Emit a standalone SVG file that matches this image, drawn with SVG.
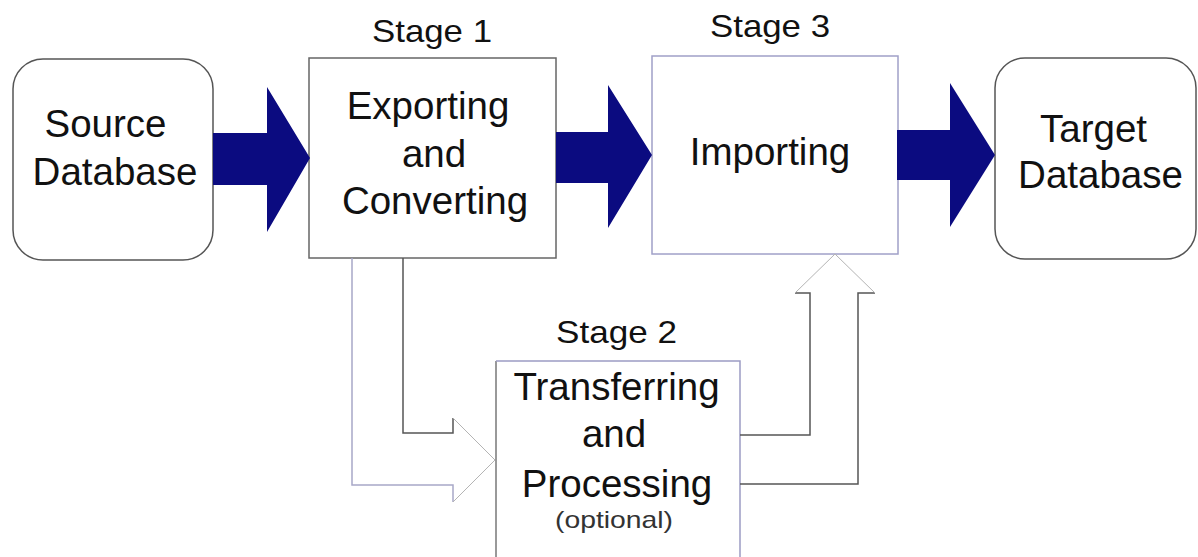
<svg xmlns="http://www.w3.org/2000/svg" width="1198" height="557" viewBox="0 0 1198 557">
  <defs>
    <style>
      .lbl { font-family: "Liberation Sans", Arial, sans-serif; fill: #111; text-anchor: middle; }
      .main { font-size: 38.5px; }
      .stage { font-size: 32px; }
      .note { font-size: 24px; fill: #333; }
      .box { fill: #fff; stroke-width: 1.5; }
      .flow { fill: #0b0b80; stroke: none; }
      .edge-dark { fill: none; stroke: #555; stroke-width: 1.5; }
      .edge-light { fill: none; stroke: #a8a8c8; stroke-width: 1.5; }
      .edge-tip { fill: none; stroke: #b4b4b4; stroke-width: 1; }
    </style>
  </defs>
  <rect width="1198" height="557" fill="#fff"/>

  <!-- nodes -->
  <g id="source-db">
    <rect class="box" x="13" y="59" width="200" height="201" rx="30" stroke="#555"/>
    <text class="lbl main" x="105.5" y="137" font-size="37">Source</text>
    <text class="lbl main" x="115" y="185" font-size="37">Database</text>
  </g>

  <g id="stage1">
    <text class="lbl stage" x="432" y="42" textLength="120" lengthAdjust="spacingAndGlyphs">Stage 1</text>
    <rect class="box" x="309" y="58" width="247" height="200" stroke="#666"/>
    <text class="lbl main" x="428" y="119">Exporting</text>
    <text class="lbl main" x="434" y="167">and</text>
    <text class="lbl main" x="435" y="214">Converting</text>
  </g>

  <g id="stage3">
    <text class="lbl stage" x="770" y="37" textLength="120" lengthAdjust="spacingAndGlyphs">Stage 3</text>
    <rect class="box" x="652" y="56" width="246" height="198" stroke="#a0a0c8"/>
    <text class="lbl main" x="770" y="165">Importing</text>
  </g>

  <g id="target-db">
    <rect class="box" x="995" y="58" width="201" height="201" rx="30" stroke="#555"/>
    <text class="lbl main" x="1093.5" y="142">Target</text>
    <text class="lbl main" x="1100.5" y="188">Database</text>
  </g>

  <g id="stage2">
    <text class="lbl stage" x="616.5" y="343" textLength="121" lengthAdjust="spacingAndGlyphs">Stage 2</text>
    <path d="M496,570 V361 H740 V570" fill="#fff" stroke="none"/>
    <path d="M496,570 V361" fill="none" stroke="#777" stroke-width="1.5"/>
    <path d="M496,361 H740 V570" fill="none" stroke="#9c9cc4" stroke-width="1.5"/>
    <text class="lbl main" x="616.5" y="400">Transferring</text>
    <text class="lbl main" x="614" y="447">and</text>
    <text class="lbl main" x="617" y="497">Processing</text>
    <text class="lbl note" x="614" y="528" textLength="118" lengthAdjust="spacingAndGlyphs">(optional)</text>
  </g>

  <!-- connectors -->
  <g id="connectors">
    <!-- solid block arrows along the main flow -->
    <polygon class="flow" points="213,133 267,133 267,87 310,158 267,232 267,185 213,185"/>
    <polygon class="flow" points="556,132 608,132 608,85 652,155 608,228 608,183 556,183"/>
    <polygon class="flow" points="897,130 950,130 950,83 995,155 950,227 950,180 897,180"/>

    <!-- hollow arrow: stage 1 down into stage 2 -->
    <path class="edge-light" d="M352,258 V485 H453 V502"/>
    <path class="edge-dark" d="M403,258 V433 H453 V418"/>
    <path class="edge-tip" d="M453,418 L495,460 L453,502"/>

    <!-- hollow arrow: stage 2 up into stage 3 -->
    <path class="edge-dark" d="M740,435 H810 V293 H795"/>
    <path class="edge-dark" d="M875,293 H858 V484 H740" stroke="#666"/>
    <path class="edge-tip" d="M795,293 L835,254 L875,293"/>
  </g>
</svg>
